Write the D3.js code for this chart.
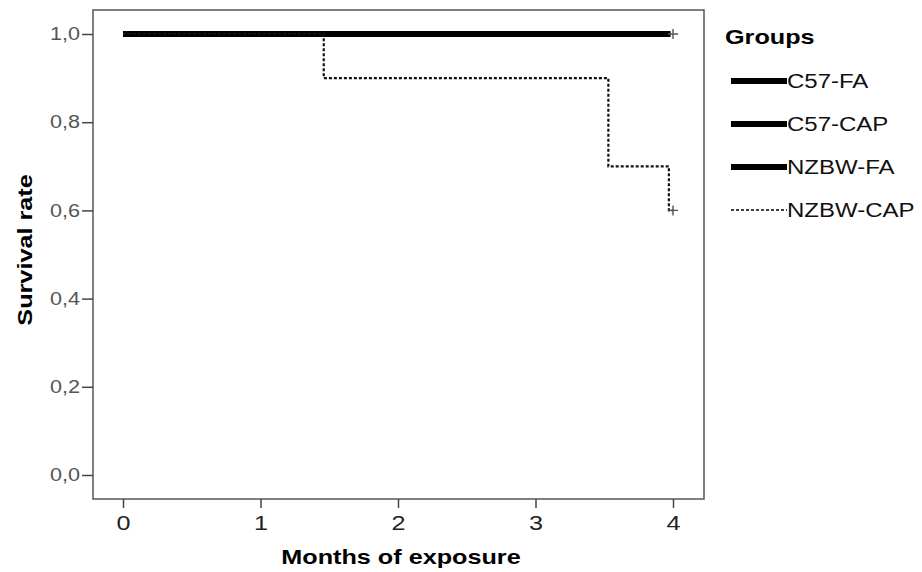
<!DOCTYPE html>
<html>
<head>
<meta charset="utf-8">
<script src="https://cdn.jsdelivr.net/npm/d3@7"></script>
<style>
  body { margin: 0; background: #fff; }
  text { font-family: Arial, "Liberation Sans", sans-serif; }
</style>
</head>
<body>
<svg id="chart" width="922" height="572"></svg>
<script>
// survival curves, Kaplan-Meier style (time in months, survival)
const groups = ["C57-FA", "C57-CAP", "NZBW-FA", "NZBW-CAP"];
const c57FA = [[0, 1.0], [4, 1.0]];
const c57CAP = [[0, 1.0], [4, 1.0]];
const nzbwFA = [[0, 1.0], [4, 1.0]];
const nzbwCAP = [[0, 1.0], [1.46, 0.9], [3.53, 0.7], [3.97, 0.6], [4, 0.6]];
const censored = [[4, 1.0], [4, 0.6]];
const xTicks = [0, 1, 2, 3, 4];
const yTicks = [0, 0.2, 0.4, 0.6, 0.8, 1.0];

const svg = d3.select("#chart");
const frame = {left: 93, right: 704, top: 10, bottom: 499};
const stretch = 1.2; // the original text looks wider than Arial

const x = d3.scaleLinear().domain([0, 4]).range([123, 673]);
const y = d3.scaleLinear().domain([0, 1]).range([475, 34]);

// widen text glyphs horizontally
function widen(sel) {
    sel.each(function() {
        const w = this.getComputedTextLength();
        d3.select(this).attr("textLength", w * stretch).attr("lengthAdjust", "spacingAndGlyphs");
    });
}

// plot frame
svg.append("rect")
    .attr("x", frame.left)
    .attr("y", frame.top)
    .attr("width", frame.right - frame.left)
    .attr("height", frame.bottom - frame.top)
    .attr("fill", "none")
    .attr("stroke", "#555")
    .attr("stroke-width", 1.5);

// axes
const fmt = d => d3.format(".1f")(d).replace(".", ",");

const yAxis = svg.append("g")
    .attr("transform", "translate(" + frame.left + ",0)")
    .call(d3.axisLeft(y).tickValues(yTicks).tickFormat(fmt).tickSize(11).tickPadding(2));
const xAxis = svg.append("g")
    .attr("transform", "translate(0," + frame.bottom + ")")
    .call(d3.axisBottom(x).tickValues(xTicks).tickFormat(d3.format("d")).tickSize(9).tickPadding(7));

[yAxis, xAxis].forEach(a => {
    a.select(".domain").remove();
    a.selectAll(".tick line").attr("stroke", "#444").attr("stroke-width", 1.5);
});
yAxis.selectAll(".tick text").attr("fill", "#555").style("font-size", "18px").call(widen);
xAxis.selectAll(".tick text").attr("fill", "#222").style("font-size", "21px").call(widen);

// axis titles
svg.append("text")
    .attr("x", 401).attr("y", 564)
    .attr("text-anchor", "middle")
    .style("font-size", "21px").style("font-weight", "bold")
    .text("Months of exposure")
    .call(widen);
svg.append("text")
    .attr("transform", "translate(32,250) rotate(-90)")
    .attr("text-anchor", "middle")
    .style("font-size", "21px").style("font-weight", "bold")
    .text("Survival rate")
    .call(widen);

// step lines
const line = d3.line().x(d => x(d[0])).y(d => y(d[1])).curve(d3.curveStepAfter);

const solid = [c57FA, c57CAP, nzbwFA];
solid.forEach(s => {
    svg.append("path")
        .attr("d", line(s.map((d, i) => i === s.length - 1 ? [d[0] - 0.02, d[1]] : d)))
        .attr("fill", "none")
        .attr("stroke", "#000")
        .attr("stroke-width", 6);
});

svg.append("path")
    .attr("d", line(nzbwCAP))
    .attr("fill", "none")
    .attr("stroke", "#111")
    .attr("stroke-width", 2.2)
    .attr("stroke-dasharray", "3,2");

// censor marks
censored.forEach(c => {
    const cx = x(c[0]), cy = y(c[1]);
    svg.append("path")
        .attr("d", "M" + (cx - 5) + "," + cy + "H" + (cx + 5) + "M" + cx + "," + (cy - 5) + "V" + (cy + 5))
        .attr("stroke", "#555")
        .attr("stroke-width", 1.4);
});

// legend
svg.append("text")
    .attr("x", 725).attr("y", 44)
    .style("font-size", "21px").style("font-weight", "bold")
    .text("Groups")
    .call(widen);

const legY = [81, 124, 167, 210];
groups.forEach((g, i) => {
    const dashed = i === 3;
    svg.append("line")
        .attr("x1", 731).attr("x2", 787)
        .attr("y1", legY[i]).attr("y2", legY[i])
        .attr("stroke", "#000")
        .attr("stroke-width", dashed ? 1.5 : 6)
        .attr("stroke-dasharray", dashed ? "3,2" : null);
    svg.append("text")
        .attr("x", 787).attr("y", legY[i] + 7)
        .style("font-size", "20px")
        .attr("fill", "#111")
        .text(g)
        .call(widen);
});
</script>
</body>
</html>
